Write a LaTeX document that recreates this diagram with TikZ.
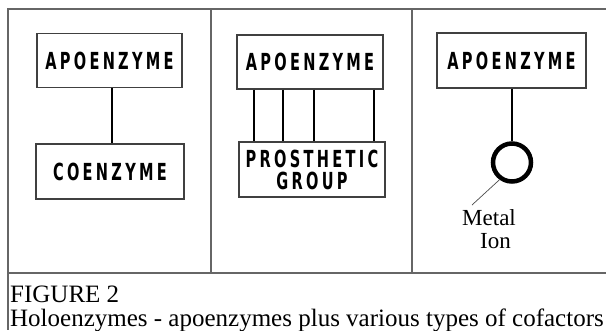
\documentclass[tikz,border=0pt]{standalone}
\usepackage{fontspec}
\setmainfont{Liberation Serif}
\newfontfamily\boxfont[FakeStretch=0.62,LetterSpace=14,BoldFont={* Bold}]{DejaVu Sans}
\begin{document}
\begin{tikzpicture}[x=1pt,y=-1pt,
  frame/.style={draw=black!60,line width=1.4pt},
  enzbox/.style={draw=black!75,line width=1.1pt,rectangle,inner sep=0pt,align=center,
     font=\boxfont\bfseries\fontsize{23.5}{23}\selectfont},
  link/.style={draw=black,line width=1.1pt},
  captext/.style={anchor=base west,inner sep=0pt,font=\fontsize{25}{24}\selectfont}]
\useasboundingbox[fill=white] (0,0) rectangle (606,330);
% frame
\draw[frame] (606,9) -- (8,9) -- (8,330);
\draw[frame] (8,273) -- (606,273);
\draw[frame] (211,9) -- (211,273);
\draw[frame] (412,9) -- (412,273);
% panel 1
\node[enzbox,minimum width=145pt,minimum height=54pt] (a1) at (109.5,60.5) {APOENZYME};
\node[enzbox,minimum width=148pt,minimum height=55pt] (co) at (110,171.5) {COENZYME};
\draw[link] (a1.south -| 112,0) -- (co.north -| 112,0);
% panel 2
\node[enzbox,minimum width=146pt,minimum height=54pt] (a2) at (310,62) {APOENZYME};
\node[enzbox,minimum width=146pt,minimum height=55pt] (pg) at (312,169.5) {PROSTHETIC\\[-1pt]GROUP};
\foreach \xx in {254,283,314,374}{
  \draw[link] (a2.south -| \xx,0) -- (pg.north -| \xx,0);
}
% panel 3
\node[enzbox,minimum width=149pt,minimum height=55pt] (a3) at (511.5,60.5) {APOENZYME};
\node[circle,draw=black,line width=4.5pt,minimum size=38pt,inner sep=0pt] (ion) at (512,162.5) {};
\draw[link] (a3.south -| ion.north) -- (ion.north);
\coordinate (lead) at (472,205);
\draw[black!70,line width=0.7pt] (ion.234) -- (lead);
\node[anchor=base west,inner sep=0pt,align=left,font=\fontsize{23}{23}\selectfont] (metal) at (462,248) {Metal\\\hspace*{18pt}Ion};
% caption
\node[captext] (fig) at (10,302) {FIGURE 2};
\node[captext] (cap) at (10,326) {Holoenzymes - apoenzymes plus various types of cofactors};
\end{tikzpicture}
\end{document}
